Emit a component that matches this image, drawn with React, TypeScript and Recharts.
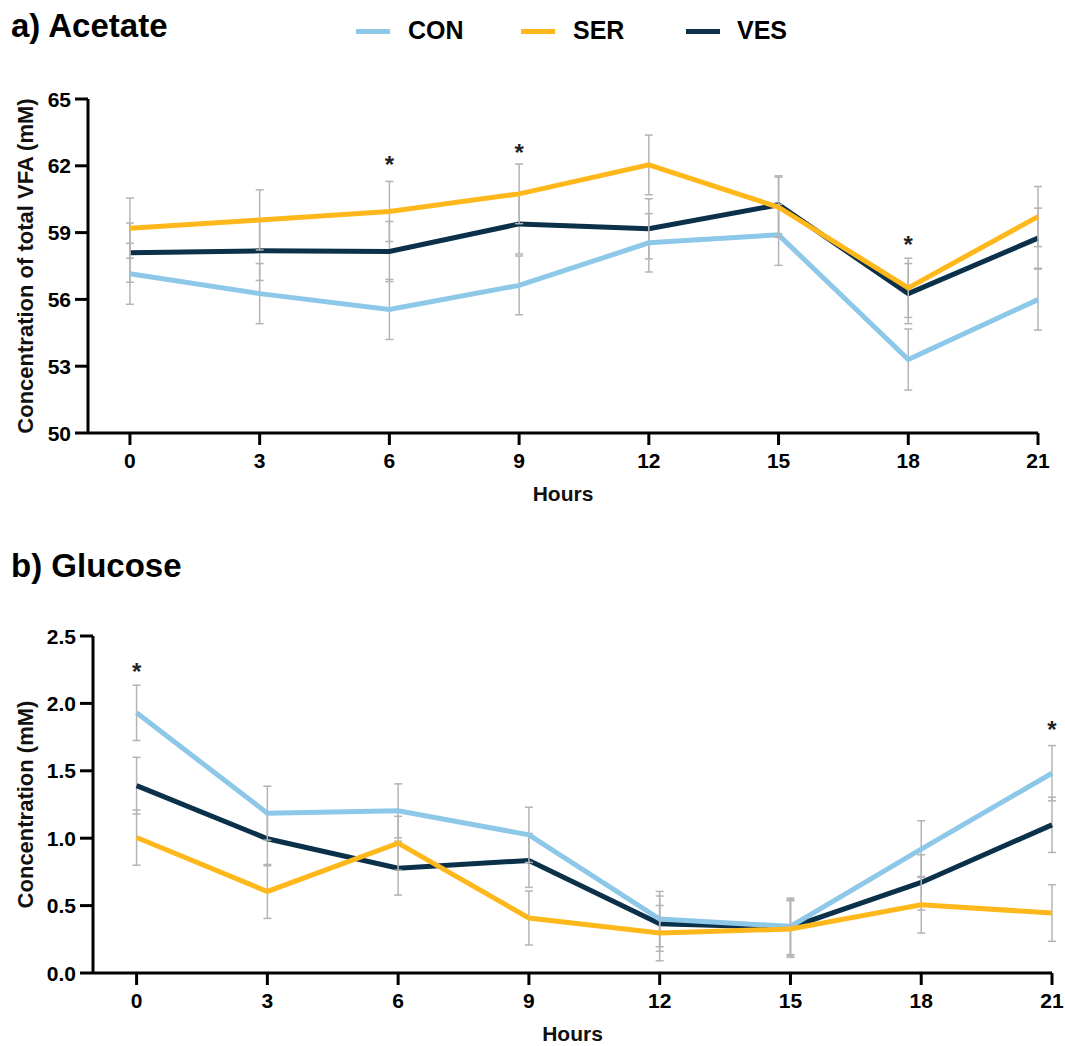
import React from 'react';
import { ComposedChart, Line, XAxis, YAxis, ErrorBar, Scatter, Label } from 'recharts';

const hours = [0, 3, 6, 9, 12, 15, 18, 21];
const seriesNames = ['CON', 'SER', 'VES'];

const conAcetate = [57.15, 56.26, 55.55, 56.63, 58.54, 58.9, 53.3, 55.99];
const serAcetate = [59.2, 59.57, 59.95, 60.74, 62.04, 60.14, 56.52, 59.72];
const vesAcetate = [58.1, 58.18, 58.15, 59.39, 59.17, 60.25, 56.26, 58.75];
const conAcetateErr = [1.37, 1.35, 1.35, 1.32, 1.31, 1.37, 1.37, 1.37];
const serAcetateErr = [1.35, 1.35, 1.35, 1.34, 1.34, 1.35, 1.33, 1.35];
const vesAcetateErr = [1.33, 1.33, 1.35, 1.35, 1.35, 1.3, 1.35, 1.35];

const conGlucose = [1.93, 1.186, 1.203, 1.025, 0.4, 0.346, 0.919, 1.482];
const serGlucose = [1.005, 0.605, 0.963, 0.408, 0.296, 0.326, 0.506, 0.445];
const vesGlucose = [1.39, 0.996, 0.778, 0.835, 0.366, 0.338, 0.672, 1.099];
const conGlucoseErr = [0.205, 0.2, 0.2, 0.205, 0.205, 0.21, 0.21, 0.205];
const serGlucoseErr = [0.205, 0.2, 0.2, 0.2, 0.205, 0.21, 0.21, 0.21];
const vesGlucoseErr = [0.21, 0.2, 0.2, 0.2, 0.205, 0.21, 0.205, 0.205];

const acetateStars = [
  { hour: 6, pos: 62.26 },
  { hour: 9, pos: 62.8 },
  { hour: 18, pos: 58.67 },
];
const glucoseStars = [
  { hour: 0, pos: 2.27 },
  { hour: 21, pos: 1.84 },
];

const acetateTicks = [50, 53, 56, 59, 62, 65];
const glucoseTicks = [0, 0.5, 1.0, 1.5, 2.0, 2.5];

const COLORS: Record<string, string> = { CON: '#8DC8E8', SER: '#FFB81C', VES: '#0B3049' };
const ERR_COLOR = '#B4B4B4';
const FONT = '"Liberation Sans", Arial, sans-serif';

const buildRows = (con: number[], ser: number[], ves: number[], ce: number[], se: number[], ve: number[]) =>
  hours.map((h, i) => ({ hour: h, CON: con[i], SER: ser[i], VES: ves[i], CONe: ce[i], SERe: se[i], VESe: ve[i] }));

const acetateRows = buildRows(conAcetate, serAcetate, vesAcetate, conAcetateErr, serAcetateErr, vesAcetateErr);
const glucoseRows = buildRows(conGlucose, serGlucose, vesGlucose, conGlucoseErr, serGlucoseErr, vesGlucoseErr);

const StarShape = (props: any) => {
  const { cx, cy } = props;
  if (cx == null || cy == null) return <g />;
  return (
    <text x={cx} y={cy + 13} textAnchor="middle" fontSize={24} fontWeight={700} fill="#222" fontFamily={FONT}>
      *
    </text>
  );
};

const makeYLabel = (text: string) => (props: any) => {
  const vb = props.viewBox || {};
  const cx = (vb.x ?? 0) + 15;
  const cy = (vb.y ?? 0) + (vb.height ?? 0) / 2;
  return (
    <text
      x={cx}
      y={cy}
      transform={`rotate(-90, ${cx}, ${cy})`}
      textAnchor="middle"
      dominantBaseline="central"
      fontSize={22}
      fontWeight={700}
      fill="#111"
      fontFamily={FONT}
    >
      {text}
    </text>
  );
};

const XTick = (props: any) => {
  const { x, y, payload } = props;
  return (
    <text x={x} y={y + 15} textAnchor="middle" fontSize={21} fontWeight={700} fill="#000" fontFamily={FONT}>
      {payload.value}
    </text>
  );
};

const makeYTick = (fmt?: (v: number) => string) => (props: any) => {
  const { x, y, payload } = props;
  return (
    <text x={x} y={y + 7.5} textAnchor="end" fontSize={21} fontWeight={700} fill="#000" fontFamily={FONT}>
      {fmt ? fmt(payload.value) : payload.value}
    </text>
  );
};

const axisStroke = { stroke: '#000', strokeWidth: 3 };

type PanelProps = {
  rows: any[];
  stars: any[];
  yTicks: number[];
  yDomain: [number, number];
  yLabel: string;
  xDomain: [number, number];
  margin: any;
  height: number;
  plotHeight: number;
  yWidth: number;
  fmt?: (v: number) => string;
};

const Panel = ({ rows, stars, yTicks, yDomain, yLabel, xDomain, margin, height, plotHeight, yWidth, fmt }: PanelProps) => (
  <ComposedChart width={1065} height={height} data={rows} margin={margin}>
    <XAxis
      type="number"
      dataKey="hour"
      domain={xDomain}
      ticks={hours}
      axisLine={axisStroke}
      tickLine={axisStroke}
      tickSize={12}
      tickMargin={8}
      tick={<XTick />}
      height={height - margin.top - margin.bottom - plotHeight}
    >
      <Label value="Hours" position="insideTop" offset={53} fill="#111" fontSize={21} fontWeight={700} fontFamily={FONT} />
    </XAxis>
    <YAxis
      type="number"
      domain={yDomain}
      ticks={yTicks}
      width={yWidth}
      axisLine={axisStroke}
      tickLine={axisStroke}
      tickSize={13}
      tickMargin={4}
      tick={makeYTick(fmt)}
      label={{ content: makeYLabel(yLabel) }}
    />
    {['VES', 'CON', 'SER'].map((s) => (
      <Line
        key={s}
        type="linear"
        dataKey={s}
        stroke={COLORS[s]}
        strokeWidth={5}
        dot={false}
        activeDot={false}
        isAnimationActive={false}
      >
        <ErrorBar dataKey={`${s}e`} direction="y" width={4} stroke={ERR_COLOR} strokeWidth={1.5} />
      </Line>
    ))}
    <Scatter data={stars} dataKey="pos" shape={StarShape} isAnimationActive={false} />
  </ComposedChart>
);

const Legend = () => (
  <div style={{ position: 'absolute', left: 0, top: 0, width: 1065, height: 60 }}>
    {seriesNames.map((s, i) => {
      const swatchX = [356, 521, 686][i];
      const textX = [408, 573, 737][i];
      return (
        <React.Fragment key={s}>
          <div style={{ position: 'absolute', left: swatchX, top: 28.5, width: 34, height: 5, background: COLORS[s] }} />
          <div
            style={{
              position: 'absolute',
              left: textX,
              top: 18,
              fontSize: 25,
              lineHeight: '25px',
              fontWeight: 700,
              fontFamily: FONT,
              color: '#000',
            }}
          >
            {s}
          </div>
        </React.Fragment>
      );
    })}
  </div>
);

const Title = ({ text, top }: { text: string; top: number }) => (
  <div
    style={{
      position: 'absolute',
      left: 11,
      top,
      fontSize: 33,
      lineHeight: '33px',
      fontWeight: 700,
      fontFamily: FONT,
      color: '#000',
      whiteSpace: 'nowrap',
    }}
  >
    {text}
  </div>
);

export default function App() {
  return (
    <div style={{ position: 'absolute', left: 0, top: 0, width: 1065, height: 1046, background: '#fff', fontFamily: FONT }}>
      <Title text="a) Acetate" top={9} />
      <Legend />
      <div style={{ position: 'absolute', left: 0, top: 0 }}>
        <Panel
          rows={acetateRows}
          stars={acetateStars}
          yTicks={acetateTicks}
          yDomain={[50, 65]}
          yLabel="Concentration of total VFA (mM)"
          xDomain={[-0.97, 21]}
          margin={{ top: 99, right: 27, left: 10, bottom: 0 }}
          height={510}
          plotHeight={334}
          yWidth={78}
        />
      </div>
      <Title text="b) Glucose" top={549} />
      <div style={{ position: 'absolute', left: 0, top: 540 }}>
        <Panel
          rows={glucoseRows}
          stars={glucoseStars}
          yTicks={glucoseTicks}
          yDomain={[0, 2.5]}
          yLabel="Concentration (mM)"
          xDomain={[-1, 21]}
          margin={{ top: 96, right: 13, left: 10, bottom: 0 }}
          height={505}
          plotHeight={337}
          yWidth={83}
          fmt={(v: number) => v.toFixed(1)}
        />
      </div>
    </div>
  );
}
